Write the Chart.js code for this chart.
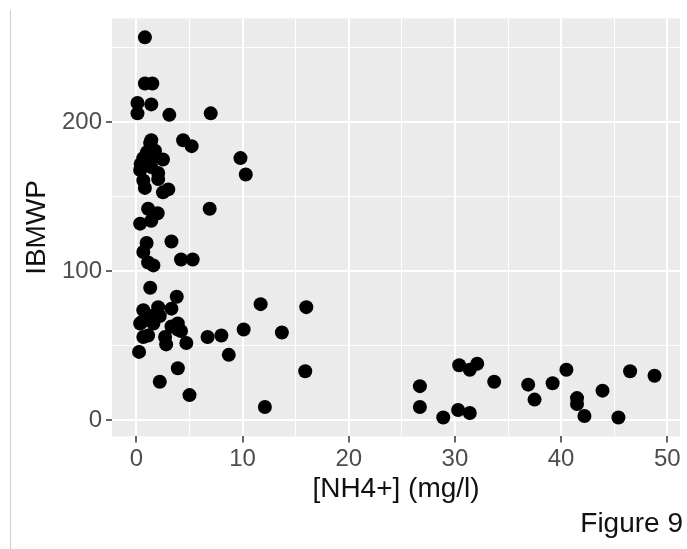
<!DOCTYPE html>
<html lang="en">
<head>
    <meta charset="UTF-8">
    <title>Figure 9</title>
    <script src="https://cdn.jsdelivr.net/npm/chart.js"></script>
    <style>
        html, body { margin: 0; padding: 0; background: #fff; }
        #wrap { position: relative; width: 687px; height: 549px; }
        #edge { position: absolute; left: 10px; top: 10px; bottom: 0; width: 1px; background: #d0d0d0; }
    </style>
</head>
<body>
    <div id="wrap">
        <div id="edge"></div>
        <canvas id="fig9" width="687" height="549"></canvas>
    </div>
    <script>
        // [NH4+] (mg/l) and IBMWP
        const nh4 = [
            0.8, 0.8, 1.5, 0.1, 1.4, 0.1, 3.1, 7.0, 1.4, 4.4, 5.2, 1.3, 1.75, 0.65, 1.8, 2.5,
            0.35, 1.4, 2.05, 0.65, 2.05, 0.8, 2.5, 3.0, 0.4, 1.0, 9.8, 10.3, 6.9, 1.1, 2.0, 0.35,
            1.4, 3.3, 0.96, 0.65, 1.1, 1.6, 4.2, 5.3, 1.3, 3.8, 3.3, 0.65, 2.05, 1.4, 0.5, 2.2,
            3.9, 0.35, 1.6, 0.65, 1.1, 3.3, 3.9, 2.7, 2.8, 4.7, 4.2, 6.7, 8.0, 10.1, 13.7, 11.7,
            16.0, 0.25, 3.9, 2.2, 5.0, 8.7, 15.9, 12.1, 26.7, 26.7, 28.9, 30.4, 31.4, 32.1, 30.3, 31.4,
            33.7, 36.9, 37.5, 39.2, 40.5, 41.5, 41.5, 42.2, 43.9, 45.4, 46.5, 48.8
        ];
        const ibmwp = [
            257, 226, 226, 213, 212, 206, 205, 206, 188, 188, 184, 186, 181, 176, 177, 175,
            168, 170, 166, 161, 162, 156, 153, 155, 172, 180, 176, 165, 142, 142, 139, 132,
            134, 120, 119, 113, 106, 104, 108, 108, 89, 83, 75, 74, 76, 70, 66, 70,
            65, 65, 65, 56, 57, 63, 61, 56, 51, 52, 60, 56, 57, 61, 59, 78,
            76, 46, 35, 26, 17, 44, 33, 9, 23, 9, 2, 37, 34, 38, 7, 5,
            26, 24, 14, 25, 34, 15, 11, 3, 20, 2, 33, 30
        ];
        const xTicks = [0, 10, 20, 30, 40, 50];
        const yTicks = [0, 100, 200];

        const FONT = "'Liberation Sans', Arial, sans-serif";

        const panelBg = {
            id: 'panelBg',
            beforeDraw(chart) {
                const a = chart.chartArea;
                const ctx = chart.ctx;
                ctx.save();
                ctx.fillStyle = '#ebebeb';
                ctx.fillRect(a.left, a.top, a.right - a.left, a.bottom - a.top);
                ctx.restore();
            }
        };

        function gridFor(major) {
            return {
                color: '#ffffff',
                lineWidth: ctx => major.includes(ctx.tick.value) ? 2 : 1,
                tickColor: ctx => major.includes(ctx.tick.value) ? '#333333' : 'rgba(0,0,0,0)',
                tickWidth: 1.5,
                tickLength: 6
            };
        }

        const chart = new Chart(document.getElementById('fig9'), {
            type: 'scatter',
            data: {
                datasets: [{
                    data: nh4.map((x, i) => ({ x: x, y: ibmwp[i] })),
                    backgroundColor: '#000000',
                    borderWidth: 0,
                    pointRadius: 7
                }]
            },
            options: {
                responsive: false,
                animation: false,
                layout: { padding: { left: 20, right: 4, top: 18, bottom: 8 } },
                plugins: {
                    legend: { display: false },
                    tooltip: { enabled: false },
                    subtitle: {
                        display: true,
                        text: 'Figure 9',
                        position: 'bottom',
                        align: 'end',
                        color: '#111',
                        font: { family: FONT, size: 28 },
                        padding: { top: 1, bottom: 0 }
                    }
                },
                scales: {
                    x: {
                        type: 'linear',
                        min: -2.3,
                        max: 51.2,
                        afterFit: s => { s.height = 70; },
                        grid: gridFor(xTicks),
                        border: { display: false },
                        ticks: {
                            stepSize: 5,
                            includeBounds: false,
                            padding: 3,
                            color: '#4d4d4d',
                            font: { family: FONT, size: 24 },
                            maxRotation: 0,
                            autoSkip: false,
                            callback: v => xTicks.includes(v) ? String(v) : ''
                        },
                        title: {
                            display: true,
                            text: '[NH4+] (mg/l)',
                            color: '#111',
                            font: { family: FONT, size: 28 },
                            padding: { top: 0, bottom: 0 }
                        }
                    },
                    y: {
                        type: 'linear',
                        min: -10.7,
                        max: 269.7,
                        afterFit: s => { s.width = 92; },
                        grid: gridFor(yTicks),
                        border: { display: false },
                        ticks: {
                            stepSize: 50,
                            includeBounds: false,
                            padding: 4,
                            color: '#4d4d4d',
                            font: { family: FONT, size: 24 },
                            autoSkip: false,
                            callback: v => yTicks.includes(v) ? String(v) : ''
                        },
                        title: {
                            display: true,
                            text: 'IBMWP',
                            color: '#111',
                            font: { family: FONT, size: 28 },
                            padding: { top: 0, bottom: 0 }
                        }
                    }
                }
            },
            plugins: [panelBg]
        });
    </script>
</body>
</html>
